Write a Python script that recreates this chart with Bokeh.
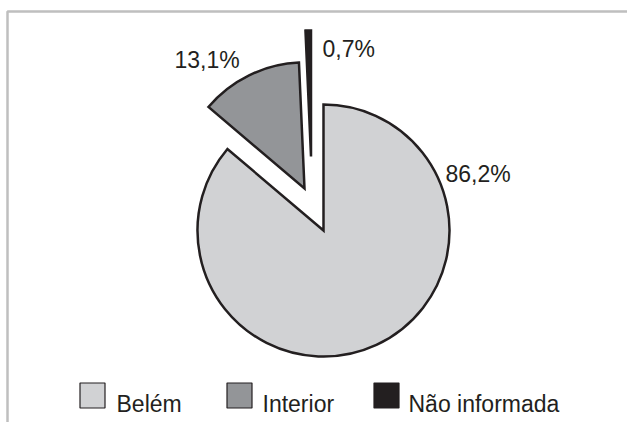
import math
from bokeh.plotting import figure
from bokeh.models import Range1d, BoxAnnotation, ColumnDataSource
from bokeh.core.properties import value
from bokeh.embed import file_html
from bokeh.resources import INLINE

# ---- data ----
categories = ["Belém", "Interior", "Não informada"]
percentages = [86.2, 13.1, 0.7]
pct_labels = ["86,2%", "13,1%", "0,7%"]

# ---- style / layout ----
W, H = 627, 422
colors = ["#d1d2d4", "#939598", "#231f20"]
outline = "#231f20"
FONT = "Liberation Sans"
CX, CY_PX, R = 323, 230, 126
# explode offsets (px, screen: +x right, +y down)
explode = [(0, 0), (-19, -42), (-12.5, -74)]
# label anchor (left, baseline) in screen px
label_pos = [(445, 173), (174, 59), (322, 48)]
legend_sq_x = [92, 239, 386]
legend_txt_x = [116, 262, 408]
legend_y_px = 395
legend_base_px = 403


def ym(y_px):
    return H - y_px


p = figure(width=W, height=H, x_range=Range1d(0, W), y_range=Range1d(0, H),
           output_backend="svg", toolbar_location=None,
           x_axis_type=None, y_axis_type=None, min_border=0,
           outline_line_color=None, background_fill_color="white",
           border_fill_color="white")
p.grid.visible = False

# wedges: start at 12 o'clock, go clockwise
total = sum(percentages)
xs, ys, starts, ends = [], [], [], []
cum = 0.0
for i, v in enumerate(percentages):
    a0 = cum / total * 2 * math.pi
    cum += v
    a1 = cum / total * 2 * math.pi
    starts.append(math.pi / 2 - a1)
    ends.append(math.pi / 2 - a0)
    dx, dy = explode[i]
    xs.append(CX + dx)
    ys.append(ym(CY_PX + dy))

src = ColumnDataSource(dict(x=xs, y=ys, start=starts, end=ends, color=colors,
                            cat=categories))
p.wedge(x="x", y="y", radius=R, start_angle="start", end_angle="end",
        fill_color="color", line_color=outline, line_width=2.5,
        line_join="miter", source=src)

# percentage labels
p.text(x=[lp[0] for lp in label_pos], y=[ym(lp[1]) for lp in label_pos],
       text=pct_labels, text_font=value(FONT), text_font_size="23px",
       text_color="#231f20", text_baseline="alphabetic", text_align="left")

# legend
p.rect(x=legend_sq_x, y=[ym(legend_y_px)] * 3, width=25, height=25,
       fill_color=colors, line_color="#231f20", line_width=1.2)
p.text(x=legend_txt_x, y=[ym(legend_base_px)] * 3, text=categories,
       text_font=value(FONT), text_font_size="23px", text_color="#231f20",
       text_baseline="alphabetic", text_align="left")

# frame border (top and left visible)
p.add_layout(BoxAnnotation(left=7, right=W + 50, top=ym(11), bottom=-50,
                           fill_alpha=0, line_color="#2b2b2b", line_width=2.5))

open("out.html", "w").write(file_html(p, INLINE))
